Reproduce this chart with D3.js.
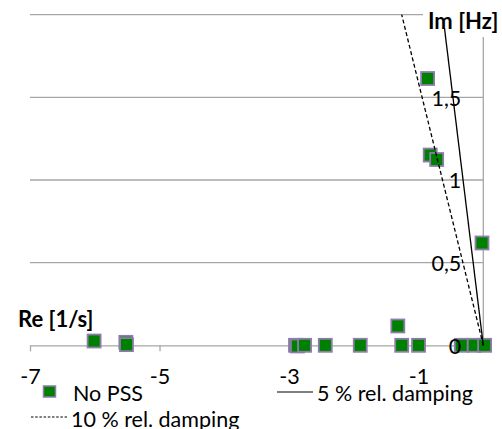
<!DOCTYPE html>
<html>
<head>
<meta charset="utf-8">
<script src="https://cdn.jsdelivr.net/npm/d3@7"></script>
<style>
  html, body { margin: 0; padding: 0; background: #fff; }
  svg { display: block; font-family: Lato, "Open Sans", sans-serif; }
</style>
</head>
<body>
<svg id="chart" width="502" height="429"></svg>
<script>
// Eigenvalues without PSS: real part [1/s] and imaginary part [Hz]
const noPssRe = [-6.01, -5.52, -5.51, -2.90, -2.87, -2.76, -2.44, -1.90, -1.32, -1.26, -1.00, -0.34, -0.14, 0.02, -0.02, -0.82, -0.72, -0.86];
const noPssIm = [0.026, 0.018, 0.004, 0.0, -0.004, 0.0, 0.0, 0.0, 0.117, 0.0, 0.0, 0.0, 0.0, 0.0, 0.619, 1.151, 1.124, 1.614];

// Relative damping boundary lines (end points from the origin)
const damp5Re = [0, -0.60];
const damp5Im = [0, 1.92];
const damp10Re = [0, -1.26];
const damp10Im = [0, 2.0];

// Axis ticks
const xTicks = [-7, -5, -3, -1];
const yTicks = [0, 0.5, 1, 1.5];
const gridValues = [0.5, 1, 1.5, 2];

const svg = d3.select("#chart");
const fontSize = 21.5;
const titleSize = 22;

const x = d3.scaleLinear().domain([-7, 0]).range([30, 483.3]);
const y = d3.scaleLinear().domain([0, 2]).range([345.3, 14.7]);

const axisColor = "#a6a6a6";

// Horizontal gridlines
svg.append("g").selectAll("line").data(gridValues).join("line")
  .attr("x1", x(-7)).attr("x2", x(0))
  .attr("y1", d => y(d)).attr("y2", d => y(d))
  .attr("stroke", axisColor).attr("stroke-width", 1.3);

// X axis (line and ticks)
const xAxisG = svg.append("g")
  .attr("transform", `translate(0,${y(0)})`)
  .call(d3.axisBottom(x).tickValues(xTicks).tickSize(6).tickSizeOuter(0).tickFormat(d => d));
xAxisG.select(".domain").attr("stroke", axisColor).attr("stroke-width", 1.3);
xAxisG.selectAll(".tick line").attr("stroke", axisColor).attr("stroke-width", 1.3);
xAxisG.selectAll("text").remove();

// Y axis line
svg.append("line")
  .attr("x1", x(0)).attr("x2", x(0))
  .attr("y1", y(0)).attr("y2", y(2))
  .attr("stroke", axisColor).attr("stroke-width", 1.3);

// Background of the imaginary-axis title
svg.append("rect")
  .attr("x", 423).attr("y", 0).attr("width", 79).attr("height", 37)
  .attr("fill", "#fff");

// Markers
const pts = noPssRe.map((r, i) => ({ re: r, im: noPssIm[i] }));
const ms = 13;
svg.append("g").selectAll("rect").data(pts).join("rect")
  .attr("x", d => x(d.re) - ms / 2)
  .attr("y", d => y(d.im) - ms / 2)
  .attr("width", ms).attr("height", ms)
  .attr("fill", "#008000")
  .attr("stroke", "#8e7cab").attr("stroke-width", 1.8);

// Damping lines
const lineGen = d3.line().x(d => x(d[0])).y(d => y(d[1]));
svg.append("path")
  .attr("d", lineGen(damp5Re.map((r, i) => [r, damp5Im[i]])))
  .attr("fill", "none").attr("stroke", "#000").attr("stroke-width", 1.3);
svg.append("path")
  .attr("d", lineGen(damp10Re.map((r, i) => [r, damp10Im[i]])))
  .attr("fill", "none").attr("stroke", "#000").attr("stroke-width", 1.3)
  .attr("stroke-dasharray", "4,2.5");

// X tick labels
const xLab = svg.append("g")
  .attr("transform", `translate(0,${y(0)})`)
  .call(d3.axisBottom(x).tickValues(xTicks).tickSize(0).tickFormat(d => d));
xLab.select(".domain").remove();
xLab.selectAll("text")
  .attr("y", 38.7).attr("dy", 0)
  .attr("font-family", "Lato").attr("font-size", fontSize).attr("fill", "#000");

// Y tick labels (comma decimal separator)
const commaFmt = d => String(d).replace(".", ",");
const yLab = svg.append("g")
  .attr("transform", `translate(${x(0)},0)`)
  .call(d3.axisLeft(y).tickValues(yTicks).tickSize(0).tickPadding(22).tickFormat(commaFmt));
yLab.select(".domain").remove();
yLab.selectAll("text")
  .attr("dy", "0.36em")
  .attr("font-family", "Lato").attr("font-size", fontSize).attr("fill", "#000");

// Axis titles
svg.append("text").attr("x", 18).attr("y", 327)
  .attr("font-weight", "bold").attr("font-size", titleSize).text("Re [1/s]");
svg.append("text").attr("x", 428).attr("y", 29)
  .attr("font-weight", "bold").attr("font-size", titleSize).text("Im [Hz]");

// Legend
const leg = svg.append("g").attr("font-size", fontSize);
leg.append("rect").attr("x", 43.5).attr("y", 386).attr("width", 12).attr("height", 11)
  .attr("fill", "#008000").attr("stroke", "#8e7cab").attr("stroke-width", 1.5);
leg.append("text").attr("x", 73).attr("y", 401).text("No PSS");
leg.append("line").attr("x1", 277).attr("x2", 313).attr("y1", 392).attr("y2", 392)
  .attr("stroke", "#000").attr("stroke-width", 1.2);
leg.append("text").attr("x", 317).attr("y", 401).text("5 % rel. damping");
leg.append("line").attr("x1", 31).attr("x2", 67).attr("y1", 417).attr("y2", 417)
  .attr("stroke", "#000").attr("stroke-width", 1).attr("stroke-dasharray", "2.5,1.7");
leg.append("text").attr("x", 71).attr("y", 427).text("10 % rel. damping");
</script>
</body>
</html>
